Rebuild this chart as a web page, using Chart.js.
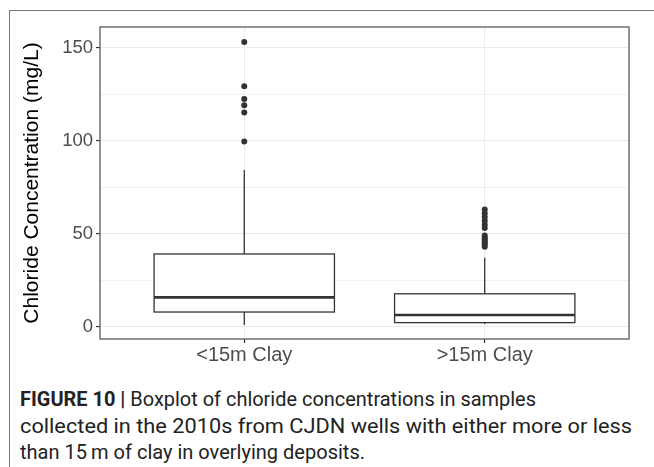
<!DOCTYPE html>
<html>
<head>
<meta charset="utf-8">
<script src="https://cdn.jsdelivr.net/npm/chart.js@4.4.1/dist/chart.umd.min.js"></script>
<style>
  html, body { margin:0; padding:0; background:#fff; width:654px; height:467px; overflow:hidden; }
  #frame { position:absolute; left:9px; top:10px; width:660px; height:470px; border-left:1.5px solid #777; border-top:1.5px solid #777; }
  #c { position:absolute; left:0; top:0; }
  #caption { position:absolute; left:20px; top:386px; font-family:Roboto, sans-serif; font-size:20px; line-height:26.5px; color:#222; white-space:nowrap; }
  #caption .ln { height:26.5px; }
  #caption .ln span { display:inline-block; transform-origin:0 50%; }
  #caption b { font-weight:700; }
</style>
</head>
<body>
<div id="frame"></div>
<canvas id="c" width="654" height="370"></canvas>
<div id="caption">
  <div class="ln"><span data-w="516"><b>FIGURE 10 |</b> Boxplot of chloride concentrations in samples</span></div>
  <div class="ln"><span data-w="612">collected in the 2010s from CJDN wells with either more or less</span></div>
  <div class="ln"><span data-w="345">than 15&#8201;m of clay in overlying deposits.</span></div>
</div>
<script>
const categories = ['<15m Clay', '>15m Clay'];
const whiskerLow  = [0.9, 1.5];
const q1          = [7.9, 2.2];
const median      = [15.8, 6.3];
const q3          = [39.1, 17.7];
const whiskerHigh = [84.2, 37.1];
const outliers = [
  [153.1, 129.2, 122.4, 119.0, 115.2, 99.5],
  [63.0, 61.0, 59.0, 57.0, 55.0, 53.0, 49.0, 48.0, 47.0, 46.0, 45.0, 44.0, 43.0]
];
const yMajorTicks = [0, 50, 100, 150];
const yMinorTicks = [25, 75, 125];
const yTitle = 'Chloride Concentration (mg/L)';

const BOX_W = 0.75;
const LINE = '#333333';

const outlierPoints = [];
outliers.forEach((arr, i) => arr.forEach(v => outlierPoints.push({x: i + 1, y: v})));

const boxPlugin = {
  id: 'boxes',
  beforeDatasetsDraw(chart) {
    const {ctx, scales: {x, y}} = chart;
    ctx.save();
    categories.forEach((c, i) => {
      const cx = x.getPixelForValue(i + 1);
      const xl = x.getPixelForValue(i + 1 - BOX_W / 2);
      const xr = x.getPixelForValue(i + 1 + BOX_W / 2);
      const yq1 = y.getPixelForValue(q1[i]);
      const yq3 = y.getPixelForValue(q3[i]);
      const ym = y.getPixelForValue(median[i]);
      const ylo = y.getPixelForValue(whiskerLow[i]);
      const yhi = y.getPixelForValue(whiskerHigh[i]);
      ctx.strokeStyle = LINE;
      ctx.lineWidth = 1.3;
      ctx.beginPath();
      ctx.moveTo(cx, yq3); ctx.lineTo(cx, yhi);
      ctx.moveTo(cx, yq1); ctx.lineTo(cx, ylo);
      ctx.stroke();
      ctx.fillStyle = '#ffffff';
      ctx.fillRect(xl, yq3, xr - xl, yq1 - yq3);
      ctx.strokeRect(xl, yq3, xr - xl, yq1 - yq3);
      ctx.lineWidth = 2.6;
      ctx.beginPath();
      ctx.moveTo(xl, ym); ctx.lineTo(xr, ym);
      ctx.stroke();
    });
    ctx.restore();
  },
  afterDraw(chart) {
    const {ctx, chartArea: a} = chart;
    ctx.save();
    ctx.strokeStyle = '#5a5a5a';
    ctx.lineWidth = 1.3;
    ctx.strokeRect(a.left, a.top, a.right - a.left, a.bottom - a.top);
    ctx.restore();
  }
};

new Chart(document.getElementById('c'), {
  type: 'scatter',
  data: {
    datasets: [{
      data: outlierPoints,
      pointRadius: 3,
      pointHoverRadius: 3,
      pointBackgroundColor: LINE,
      pointBorderColor: LINE,
      pointBorderWidth: 0
    }]
  },
  options: {
    responsive: false,
    animation: false,
    devicePixelRatio: 1,
    layout: { padding: { left: 0, top: 27, right: 25, bottom: 0 } },
    plugins: { legend: { display: false }, tooltip: { enabled: false } },
    scales: {
      x: {
        type: 'linear',
        min: 0.4, max: 2.6,
        afterBuildTicks: s => { s.ticks = categories.map((c, i) => ({value: i + 1})); },
        afterFit: s => { s.height = 31; },
        ticks: {
          callback: (v) => categories[Math.round(v) - 1] || '',
          font: { family: 'Liberation Sans, Arial, sans-serif', size: 20 },
          color: '#4d4d4d',
          padding: 0,
          maxRotation: 0, autoSkip: false
        },
        grid: { color: '#ebebeb', lineWidth: 1, tickLength: 4, tickColor: LINE, tickWidth: 1.2 },
        border: { display: false }
      },
      y: {
        min: -6.6, max: 161.1,
        afterBuildTicks: s => {
          s.ticks = [...yMajorTicks, ...yMinorTicks].sort((a, b) => a - b).map(v => ({value: v}));
        },
        afterFit: s => { s.width = 100; },
        ticks: {
          callback: v => yMajorTicks.includes(v) ? String(v) : '',
          font: { family: 'Liberation Sans, Arial, sans-serif', size: 18.5 },
          color: '#4d4d4d',
          padding: 3,
          autoSkip: false
        },
        grid: {
          color: '#ebebeb',
          lineWidth: ctx => (ctx.tick && yMajorTicks.includes(ctx.tick.value)) ? 1.1 : 0.7,
          tickLength: 4,
          tickColor: ctx => (ctx.tick && yMajorTicks.includes(ctx.tick.value)) ? LINE : 'rgba(0,0,0,0)',
          tickWidth: 1.2
        },
        border: { display: false },
        title: {
          display: true,
          text: yTitle,
          font: { family: 'Liberation Sans, Arial, sans-serif', size: 21 },
          color: '#000000',
          padding: { top: 20, bottom: 0 }
        }
      }
    }
  },
  plugins: [boxPlugin]
});

// fit each caption line to the width it has in the reference
document.querySelectorAll('#caption .ln span').forEach(sp => {
  const tw = sp.getBoundingClientRect().width;
  const target = parseFloat(sp.dataset.w);
  sp.style.transform = 'scaleX(' + (target / tw) + ')';
});
</script>
</body>
</html>
